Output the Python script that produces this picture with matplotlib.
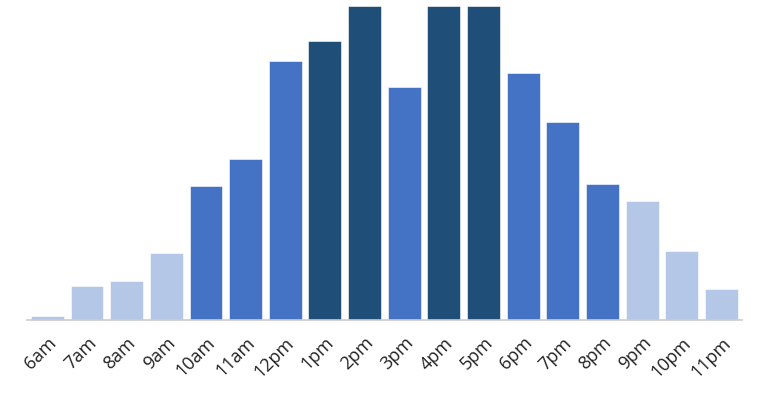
import matplotlib.pyplot as plt

hours = ['6am', '7am', '8am', '9am', '10am', '11am', '12pm', '1pm', '2pm',
         '3pm', '4pm', '5pm', '6pm', '7pm', '8pm', '9pm', '10pm', '11pm']
visits = [4, 34, 39, 67, 134, 161, 259, 279, 314, 233, 314, 314, 247, 198, 136, 119, 69, 31]


def bar_color(v):
    if v < 125:
        return '#b4c7e7'
    if v < 265:
        return '#4472c4'
    return '#1f4e79'


fig = plt.figure(figsize=(7.65, 3.95), dpi=100)
ax = fig.add_axes([0.035, 0.19, 0.935, 0.795])

colors = [bar_color(v) for v in visits]
ax.bar(range(len(hours)), visits, width=0.83, color=colors,
       edgecolor='#ffffff', linewidth=0.4)

ax.set_xlim(-0.52, len(hours) - 0.48)
ax.set_ylim(0, max(visits))
ax.set_yticks([])
ax.set_xticks(range(len(hours)))
ax.set_xticklabels(hours, rotation=45, ha='right', rotation_mode='anchor',
                   fontsize=13, family='Open Sans', color='#222222')
ax.tick_params(axis='x', length=0, pad=10)
for s in ['top', 'right', 'left']:
    ax.spines[s].set_visible(False)
ax.spines['bottom'].set_color('#cccccc')
ax.spines['bottom'].set_linewidth(1.2)

fig.savefig('out.png', dpi=100)
